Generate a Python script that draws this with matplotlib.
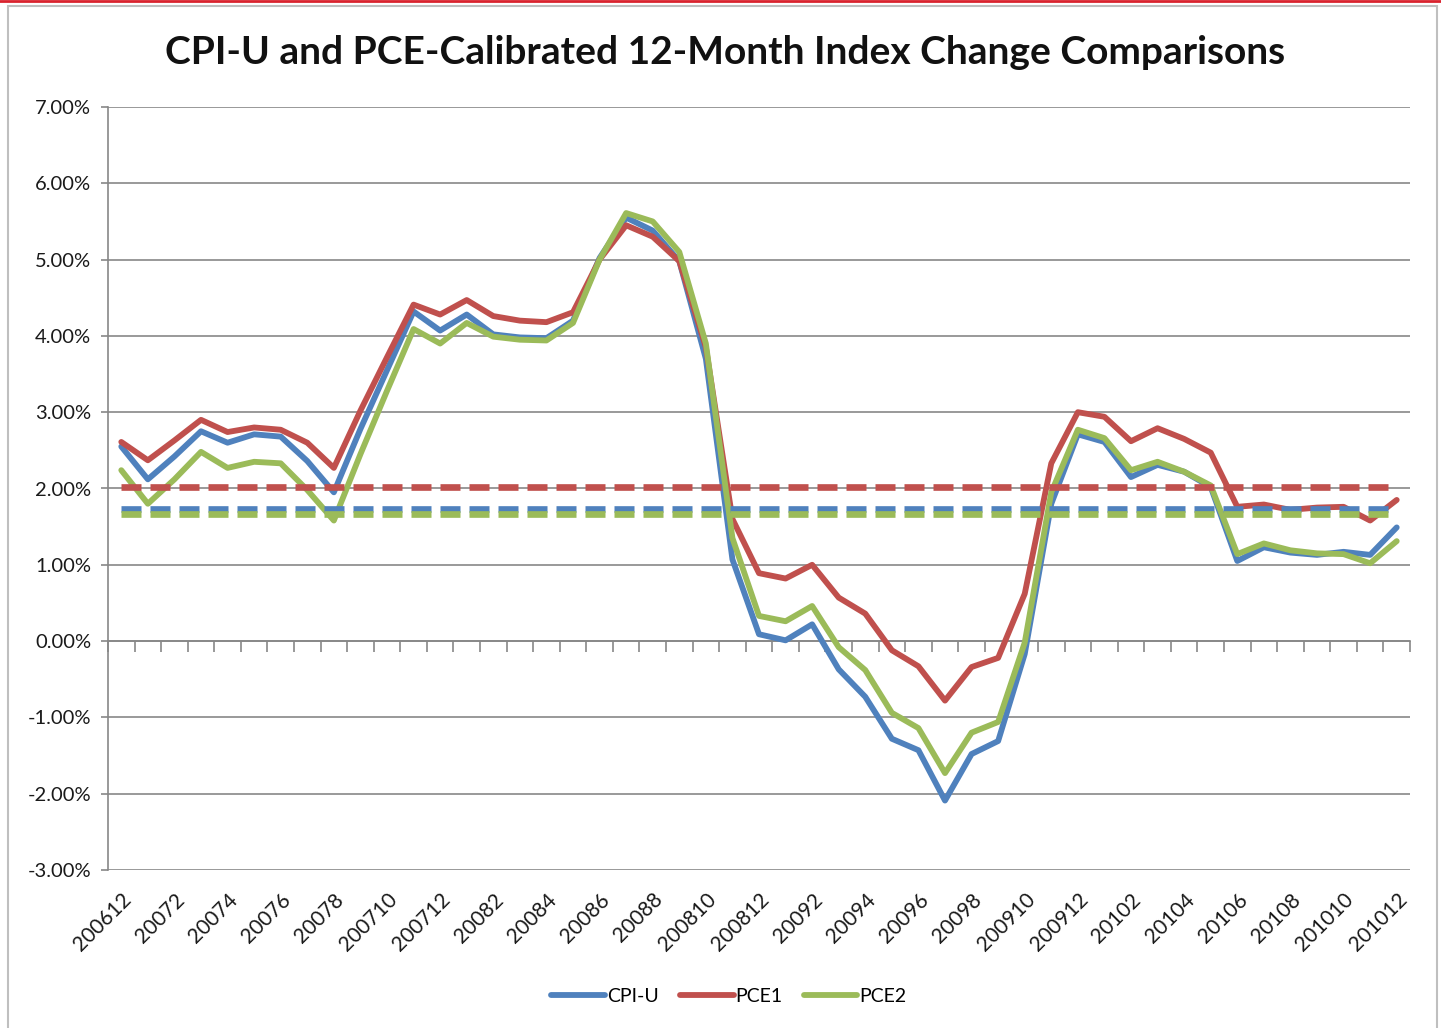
import matplotlib
matplotlib.use("Agg")
import matplotlib.pyplot as plt
from matplotlib.patches import Rectangle
from matplotlib.lines import Line2D
import numpy as np

periods = ["200612", "20071", "20072", "20073", "20074", "20075", "20076", "20077",
           "20078", "20079", "200710", "200711", "200712", "20081", "20082", "20083",
           "20084", "20085", "20086", "20087", "20088", "20089", "200810", "200811",
           "200812", "20091", "20092", "20093", "20094", "20095", "20096", "20097",
           "20098", "20099", "200910", "200911", "200912", "20101", "20102", "20103",
           "20104", "20105", "20106", "20107", "20108", "20109", "201010", "201011",
           "201012"]

cpi_u = [2.55, 2.12, 2.42, 2.75, 2.60, 2.71, 2.68, 2.36, 1.95, 2.78, 3.55, 4.32,
         4.07, 4.28, 4.02, 3.98, 3.97, 4.20, 5.02, 5.55, 5.38, 4.98, 3.70, 1.07,
         0.09, 0.01, 0.22, -0.37, -0.73, -1.28, -1.43, -2.09, -1.48, -1.31, -0.17,
         1.80, 2.71, 2.61, 2.15, 2.31, 2.22, 2.02, 1.05, 1.23, 1.16, 1.13, 1.17,
         1.13, 1.49]

pce1 = [2.61, 2.37, 2.63, 2.90, 2.74, 2.80, 2.77, 2.60, 2.27, 3.02, 3.72, 4.41,
        4.28, 4.47, 4.26, 4.20, 4.18, 4.31, 5.00, 5.45, 5.30, 4.98, 3.85, 1.60,
        0.89, 0.82, 1.00, 0.57, 0.36, -0.12, -0.33, -0.78, -0.34, -0.22, 0.62,
        2.33, 3.00, 2.94, 2.62, 2.79, 2.65, 2.47, 1.76, 1.79, 1.72, 1.75, 1.76,
        1.58, 1.85]

pce2 = [2.24, 1.80, 2.12, 2.48, 2.27, 2.35, 2.33, 1.98, 1.58, 2.45, 3.28, 4.09,
        3.90, 4.17, 3.99, 3.95, 3.94, 4.17, 5.00, 5.61, 5.50, 5.10, 3.90, 1.35,
        0.33, 0.26, 0.46, -0.08, -0.38, -0.94, -1.14, -1.73, -1.20, -1.06, -0.02,
        1.95, 2.77, 2.66, 2.24, 2.35, 2.22, 2.04, 1.14, 1.28, 1.19, 1.15, 1.14,
        1.02, 1.31]

avg_cpi_u = 1.73
avg_pce1 = 2.02
avg_pce2 = 1.67

series_names = ["CPI-U", "PCE1", "PCE2"]
colors = ["#4F81BD", "#C0504D", "#9BBB59"]
y_ticks = [-3, -2, -1, 0, 1, 2, 3, 4, 5, 6, 7]

W, H = 1441, 1028
fig = plt.figure(figsize=(W / 100, H / 100), dpi=100)
fig.patch.set_facecolor("white")

# chart frame and top red rule
fig.add_artist(Rectangle((8 / W, -0.01), 1429 / W, 1 - 6 / H + 0.01, transform=fig.transFigure,
                         fill=False, edgecolor="#BFBFBF", linewidth=1.5))
fig.add_artist(Line2D([0, 1], [1 - 1 / H, 1 - 1 / H], transform=fig.transFigure,
                      color="#D9232E", linewidth=2))

L, R, T, B = 108, 1410, 107, 870
ax = fig.add_axes([L / W, 1 - B / H, (R - L) / W, (B - T) / H])

x = np.arange(len(periods))
gray = "#878787"

ax.set_xlim(-0.5, len(periods) - 0.5)
ax.set_ylim(-3, 7)
ax.set_yticks(y_ticks)
ax.set_yticklabels([f"{v:.2f}%" for v in y_ticks])
ax.yaxis.grid(True, color=gray, linewidth=1.2)
ax.set_axisbelow(True)

for s in ["top", "right"]:
    ax.spines[s].set_visible(False)
ax.spines["left"].set_color(gray)
ax.spines["left"].set_linewidth(1.2)
ax.spines["bottom"].set_position(("data", 0))
ax.spines["bottom"].set_color(gray)
ax.spines["bottom"].set_linewidth(1.2)

ax.tick_params(axis="y", length=5, width=1.2, color=gray, labelsize=14.5, pad=7,
               labelcolor="#1a1a1a")
ax.set_xticks(np.arange(len(periods) + 1) - 0.5)
ax.tick_params(axis="x", length=8, width=1.2, color=gray, labelbottom=False)

sec = ax.secondary_xaxis(0.0)
sec.set_xticks(x[::2])
sec.set_xticklabels(periods[::2], rotation=45, ha="right", va="top",
                    rotation_mode="anchor", fontsize=15, color="#1a1a1a")
sec.tick_params(length=0, pad=14)
sec.spines["bottom"].set_visible(False)

lw = 4.2
handles = []
for vals, c, name in zip([cpi_u, pce1, pce2], colors, series_names):
    h, = ax.plot(x, vals, color=c, linewidth=lw, solid_joinstyle="round",
                 solid_capstyle="round", label=name, zorder=3)
    handles.append(h)

for val, c in zip([avg_cpi_u, avg_pce1, avg_pce2], colors):
    ax.plot(x, [val] * len(x), color=c, linewidth=4.8, linestyle=(0, (3.0, 1.35)),
            dash_capstyle="butt", zorder=4)

fig.text(725 / W, 1 - 52 / H, "CPI-U and PCE-Calibrated 12-Month Index Change Comparisons",
         ha="center", va="center", fontsize=28, fontweight="bold", family="Lato",
         color="#111111")

leg = fig.legend(handles=handles, labels=series_names, loc="center",
                 bbox_to_anchor=(729 / W, 1 - 996 / H), ncol=3, frameon=False,
                 fontsize=14, handlelength=2.75, handletextpad=0.1, columnspacing=1.1)

for t in ax.get_yticklabels() + sec.get_xticklabels() + leg.get_texts():
    t.set_family("Lato")

fig.savefig("out.png", dpi=100, facecolor="white")
